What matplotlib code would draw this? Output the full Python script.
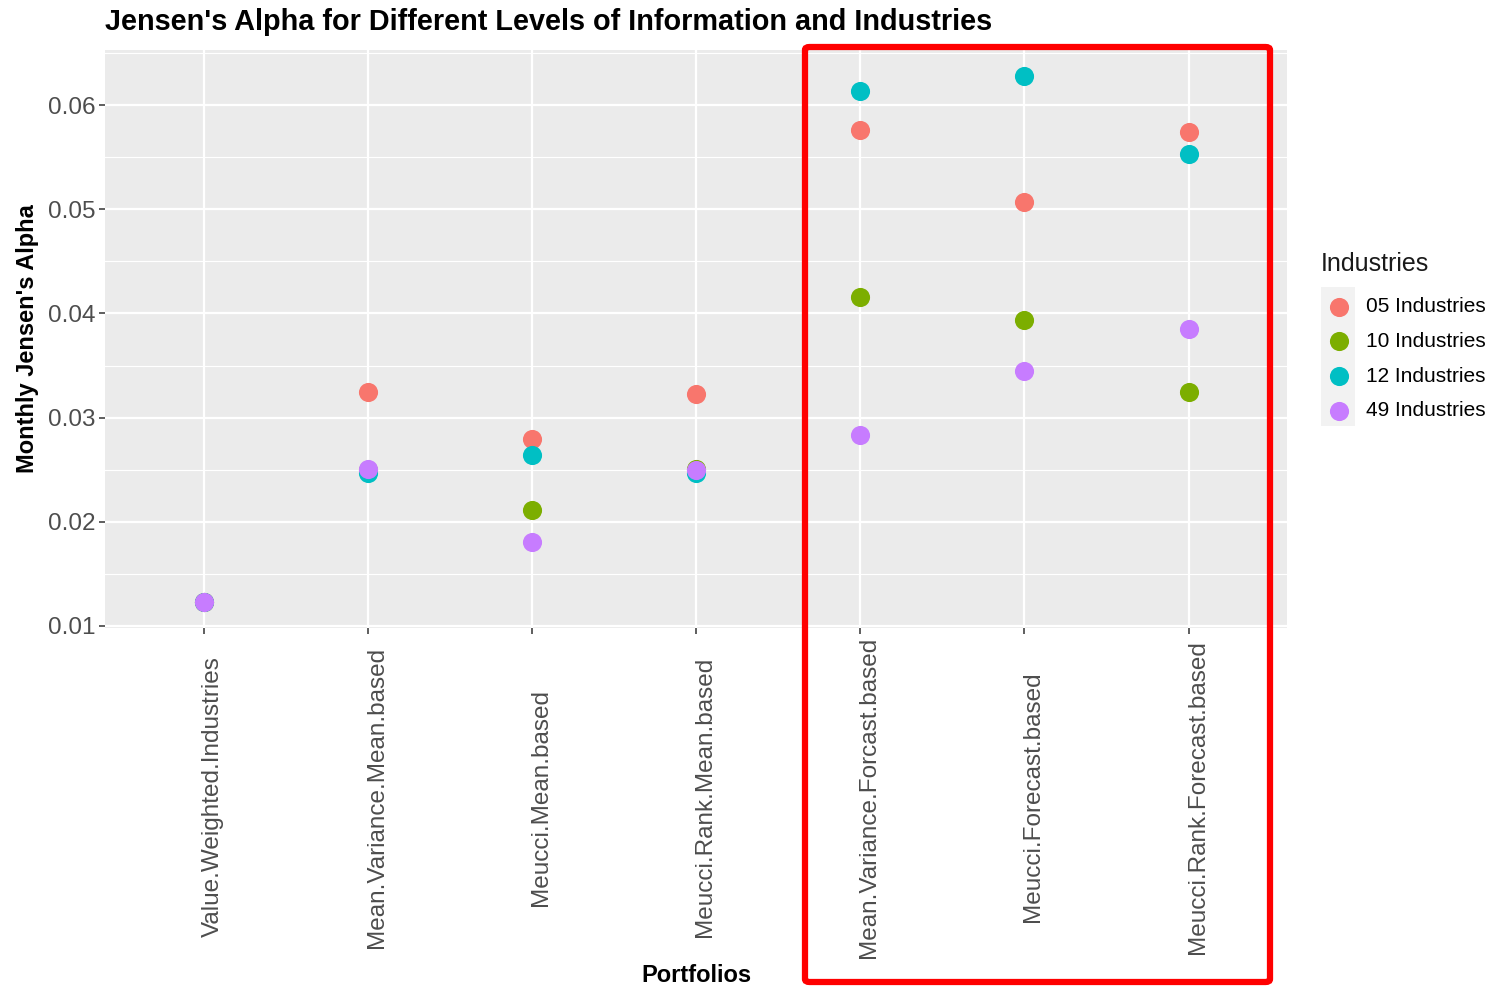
import matplotlib
matplotlib.use("Agg")
import matplotlib.pyplot as plt
import matplotlib.transforms as mtransforms
from matplotlib.patches import FancyBboxPatch, Rectangle

plt.rcParams['font.family'] = ['Liberation Sans', 'DejaVu Sans']

portfolios = ["Value.Weighted.Industries", "Mean.Variance.Mean.based", "Meucci.Mean.based",
              "Meucci.Rank.Mean.based", "Mean.Variance.Forcast.based", "Meucci.Forecast.based",
              "Meucci.Rank.Forecast.based"]
industries = ["05 Industries", "10 Industries", "12 Industries", "49 Industries"]
colors = ["#F8766D", "#7CAE00", "#00BFC4", "#C77CFF"]

alpha_05 = [0.0123, 0.0325, 0.0279, 0.0323, 0.0576, 0.0507, 0.0574]
alpha_10 = [0.0123, 0.0250, 0.0211, 0.0251, 0.0416, 0.0394, 0.0325]
alpha_12 = [0.0123, 0.0247, 0.0264, 0.0247, 0.0614, 0.0628, 0.0553]
alpha_49 = [0.0123, 0.0251, 0.0181, 0.0250, 0.0283, 0.0345, 0.0385]
series = [alpha_05, alpha_10, alpha_12, alpha_49]

fig = plt.figure(figsize=(14.99, 9.9), dpi=100)
ax = fig.add_axes([105/1499, 1-628/990, (1287-105)/1499, (628-50)/990])
ax.set_facecolor("#EBEBEB")

x = list(range(len(portfolios)))
for name, vals, c in zip(industries, series, colors):
    ax.scatter(x, vals, s=190, color=c, label=name, zorder=3, linewidths=0)

ax.set_xlim(-0.6, 6.6)
ax.set_ylim(0.0098, 0.0653)
ax.set_xticks(x)
ax.tick_params(axis="x", labelbottom=False)
lab_trans = mtransforms.blended_transform_factory(ax.transData, fig.transFigure) + \
    mtransforms.ScaledTranslation(9/100, 0, fig.dpi_scale_trans)
for xi, name in zip(x, portfolios):
    ax.text(xi, 1-797/990, name, transform=lab_trans, rotation=90, fontsize=17.5,
            color="#4D4D4D", ha="center", va="center", clip_on=False)

yt = [0.01, 0.02, 0.03, 0.04, 0.05, 0.06]
ax.set_yticks(yt)
ax.set_yticklabels([f"{v:.2f}" for v in yt], fontsize=17.5, color="#4D4D4D")
ax.set_yticks([0.015, 0.025, 0.035, 0.045, 0.055, 0.065], minor=True)
ax.grid(True, which="major", color="white", linewidth=1.6, zorder=0)
ax.grid(True, which="minor", axis="y", color="white", linewidth=0.8, zorder=0)
ax.set_axisbelow(True)
ax.tick_params(axis="both", which="major", length=4, width=1.1, color="#333333", pad=3)
ax.tick_params(axis="both", which="minor", length=0)
for s in ax.spines.values():
    s.set_visible(False)

ax.set_ylabel("Monthly Jensen's Alpha", fontsize=17, fontweight="bold", labelpad=6)
fig.text((105+1287)/2/1499, 1-976/990, "Portfolios", fontsize=17, fontweight="bold",
         ha="center", va="center")
fig.text(105/1499, 1-22/990, "Jensen's Alpha for Different Levels of Information and Industries",
         fontsize=20.8, fontweight="bold", ha="left", va="center")

fig.text(1321/1499, 1-264/990, "Industries", fontsize=18, ha="left", va="center",
         color="#1A1A1A")
handles, labels = ax.get_legend_handles_labels()
leg = fig.legend(handles, labels, loc="upper left",
                 bbox_to_anchor=(1318/1499, 1-297/990), bbox_transform=fig.transFigure,
                 frameon=False, fontsize=15, markerscale=1.0,
                 handletextpad=0.3, labelspacing=0.76, borderaxespad=0, borderpad=0)
leg.set_zorder(5)
fig.patches.append(Rectangle((1321/1499, 1-426/990), 34/1499, 139/990,
                             transform=fig.transFigure, facecolor="#F2F2F2",
                             edgecolor="none", zorder=0))

fig.patches.append(FancyBboxPatch((805/1499, 1-982/990), (1270-805)/1499, (982-47)/990,
                                  boxstyle="round,pad=0,rounding_size=0.003",
                                  transform=fig.transFigure, facecolor="none",
                                  edgecolor="#FF0000", linewidth=4.5, zorder=10))

fig.savefig("out.png", dpi=100)
